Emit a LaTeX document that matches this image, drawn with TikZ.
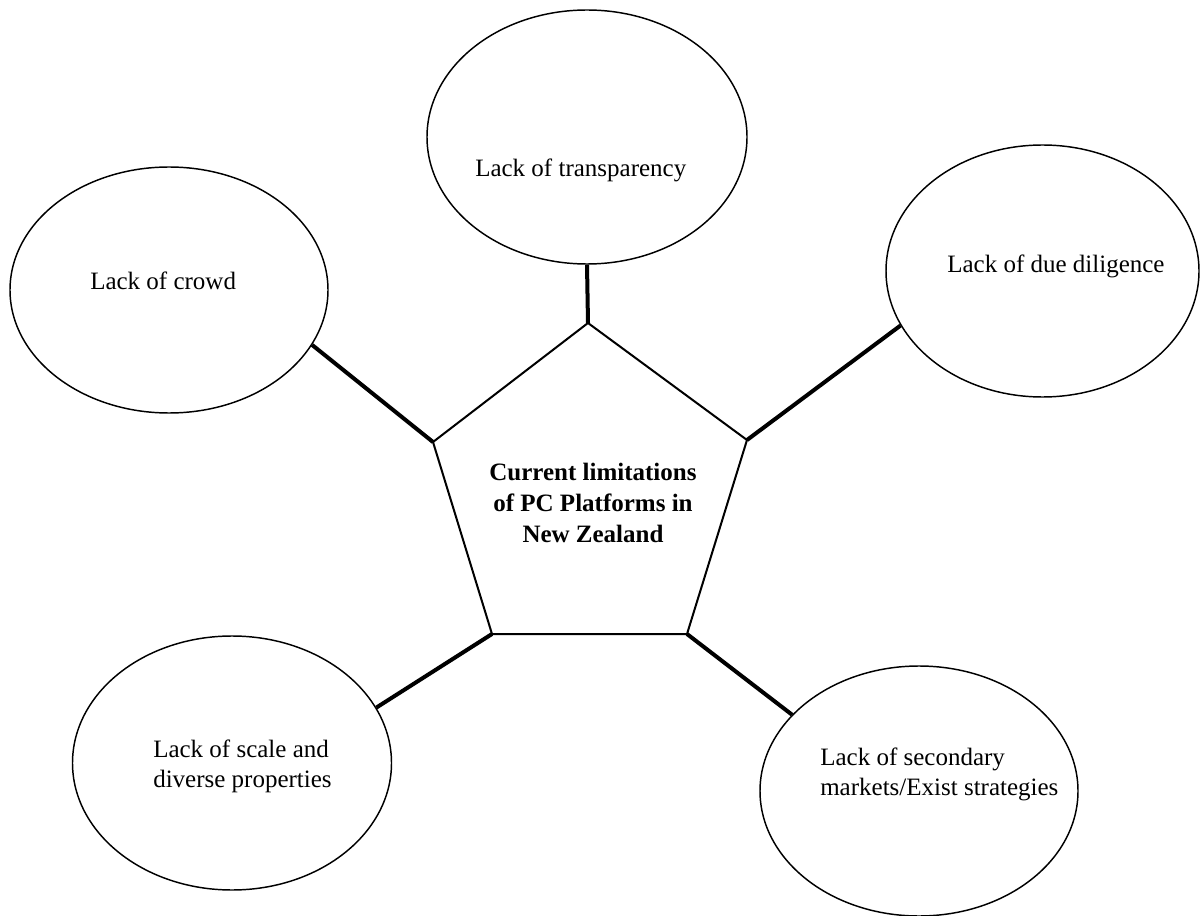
\documentclass[tikz,border=0pt]{standalone}
\usepackage{fontspec}
\setmainfont{Liberation Serif}
\usetikzlibrary{shapes.geometric}

\begin{document}
\begin{tikzpicture}[x=0.75pt,y=-0.75pt,
  bubble/.style={draw=black, line width=1.1pt, ellipse, inner sep=0pt},
  caption/.style={inner sep=0pt, font=\fontsize{18.75}{22.5}\selectfont},
  hubtext/.style={inner sep=0pt, align=center, font=\fontsize{18.75}{23.25}\selectfont\bfseries},
  spoke/.style={line width=3pt},
  rim/.style={line width=1.5pt, line join=miter}]

\useasboundingbox (0,0) rectangle (1200,916);

% surrounding ellipses
\node[bubble, minimum width=320*0.75pt, minimum height=254*0.75pt] (top)   at (587,137) {};
\node[bubble, minimum width=318*0.75pt, minimum height=246*0.75pt] (crowd) at (169,290) {};
\node[bubble, minimum width=313*0.75pt, minimum height=252*0.75pt] (due)   at (1042.5,271) {};
\node[bubble, minimum width=319*0.75pt, minimum height=254*0.75pt] (scale) at (232,763) {};
\node[bubble, minimum width=318*0.75pt, minimum height=250*0.75pt] (sec)   at (919,791) {};

% their captions
\node[caption, anchor=base west] (ttop)   at (475,177) {Lack of transparency};
\node[caption, anchor=base west] (tcrowd) at (90,290)  {Lack of crowd};
\node[caption, anchor=base west] (tdue)   at (947,273) {Lack of due diligence};
\node[caption, anchor=west, align=left] (tscale) at (153,766) {Lack of scale and\\diverse properties};
\node[caption, anchor=west, align=left] (tsec)   at (820,774) {Lack of secondary\\markets/Exist strategies};

% central pentagon
\coordinate (pT)  at (588,323);
\coordinate (pL)  at (433,442);
\coordinate (pR)  at (747,440);
\coordinate (pBL) at (492,634);
\coordinate (pBR) at (687,634);
\draw[rim] (pT) -- (pR) -- (pBR) -- (pBL) -- (pL) -- cycle;
\node[hubtext] (hub) at (593,502.5) {Current limitations\\of PC Platforms in\\New Zealand};

% spokes from the pentagon corners to the ellipses
\draw[spoke] (pT)  -- (top.-90);
\draw[spoke] (pL)  -- (crowd.-21);
\draw[spoke] (pR)  -- (due.201.4);
\draw[spoke] (pBL) -- (scale.21);
\draw[spoke] (pBR) -- (sec.149.6);
\end{tikzpicture}
\end{document}
